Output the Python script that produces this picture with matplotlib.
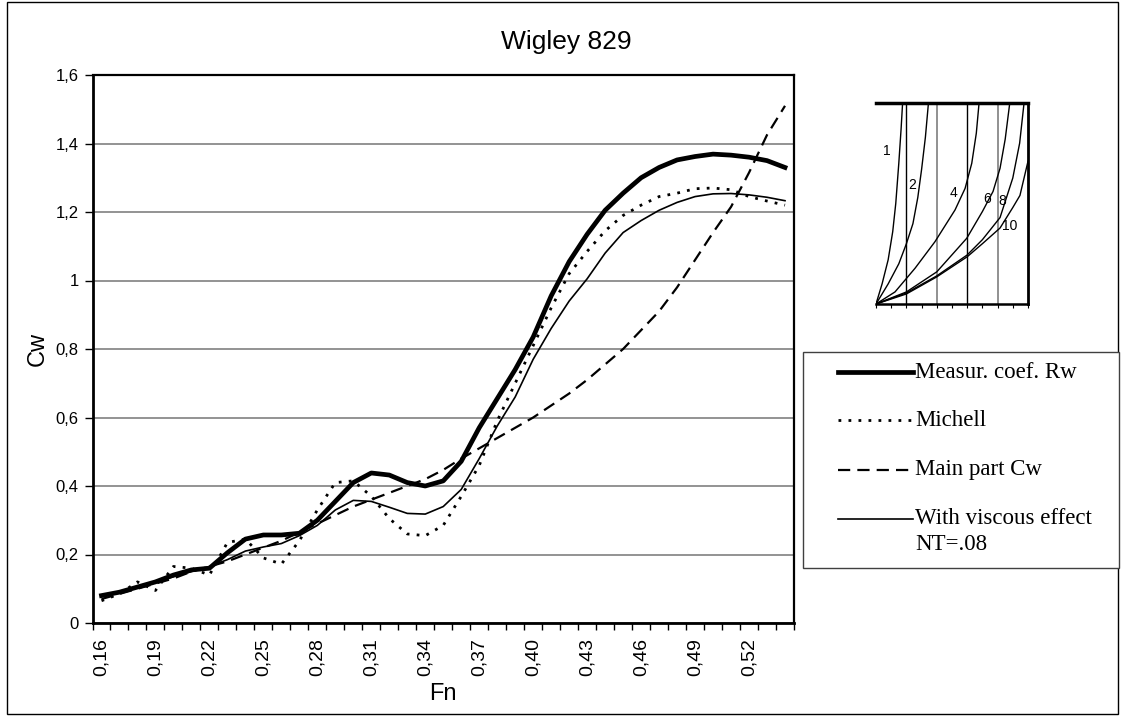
import matplotlib
matplotlib.use("Agg")
import matplotlib.pyplot as plt
from matplotlib.lines import Line2D
from matplotlib.patches import Rectangle

# ---------------- data ----------------
fn = [0.16, 0.17, 0.18, 0.19, 0.20, 0.21, 0.22, 0.23, 0.24, 0.25,
      0.26, 0.27, 0.28, 0.29, 0.30, 0.31, 0.32, 0.33, 0.34, 0.35,
      0.36, 0.37, 0.38, 0.39, 0.40, 0.41, 0.42, 0.43, 0.44, 0.45,
      0.46, 0.47, 0.48, 0.49, 0.50, 0.51, 0.52, 0.53, 0.54]

measured = [0.080, 0.090, 0.105, 0.120, 0.140, 0.155, 0.160, 0.205, 0.245, 0.257,
            0.257, 0.262, 0.300, 0.355, 0.410, 0.438, 0.432, 0.410, 0.400, 0.415,
            0.472, 0.570, 0.655, 0.740, 0.835, 0.955, 1.055, 1.135, 1.205, 1.255,
            1.300, 1.330, 1.352, 1.362, 1.369, 1.366, 1.360, 1.350, 1.330]

michell = [0.065, 0.085, 0.120, 0.095, 0.165, 0.160, 0.140, 0.235, 0.245, 0.190,
           0.172, 0.240, 0.330, 0.410, 0.415, 0.370, 0.305, 0.260, 0.255, 0.285,
           0.370, 0.460, 0.590, 0.700, 0.810, 0.920, 1.020, 1.085, 1.145, 1.190,
           1.220, 1.245, 1.255, 1.268, 1.270, 1.265, 1.245, 1.232, 1.220]

main_part = [0.070, 0.085, 0.100, 0.115, 0.130, 0.150, 0.165, 0.180, 0.200, 0.220,
             0.240, 0.265, 0.290, 0.315, 0.340, 0.360, 0.380, 0.400, 0.420, 0.447,
             0.480, 0.510, 0.540, 0.570, 0.600, 0.635, 0.670, 0.710, 0.755, 0.800,
             0.855, 0.910, 0.980, 1.060, 1.140, 1.215, 1.315, 1.425, 1.510]

viscous = [0.080, 0.090, 0.105, 0.120, 0.135, 0.150, 0.165, 0.185, 0.210, 0.222,
           0.232, 0.255, 0.285, 0.330, 0.358, 0.355, 0.338, 0.320, 0.318, 0.340,
           0.390, 0.480, 0.575, 0.660, 0.770, 0.860, 0.940, 1.005, 1.080, 1.140,
           1.175, 1.205, 1.228, 1.245, 1.253, 1.254, 1.250, 1.243, 1.233]

y_ticks = [0, 0.2, 0.4, 0.6, 0.8, 1.0, 1.2, 1.4, 1.6]
y_labels = ["0", "0,2", "0,4", "0,6", "0,8", "1", "1,2", "1,4", "1,6"]

legend_labels = ["Measur. coef. Rw", "Michell", "Main part Cw", "With viscous effect", "NT=.08"]

# inset curves (relative coordinates inside the small picture)
inset_names = ["1", "2", "4", "6", "8", "10"]
inset_u = [
    [0.0, 0.04, 0.08, 0.11, 0.13, 0.15, 0.165, 0.175],
    [0.0, 0.08, 0.15, 0.20, 0.243, 0.275, 0.30, 0.325, 0.345],
    [0.0, 0.125, 0.257, 0.388, 0.52, 0.586, 0.63, 0.66, 0.678],
    [0.0, 0.2, 0.4, 0.597, 0.7, 0.77, 0.816, 0.85, 0.88],
    [0.0, 0.2, 0.4, 0.6, 0.7, 0.816, 0.9, 0.945, 0.974],
    [0.0, 0.2, 0.4, 0.6, 0.7, 0.816, 0.9, 0.947, 1.0],
]
inset_v = [
    [0.0, 0.10, 0.22, 0.36, 0.50, 0.70, 0.87, 1.0],
    [0.0, 0.10, 0.20, 0.30, 0.40, 0.53, 0.67, 0.83, 1.0],
    [0.0, 0.06, 0.178, 0.31, 0.468, 0.575, 0.70, 0.85, 1.0],
    [0.0, 0.06, 0.16, 0.327, 0.46, 0.56, 0.675, 0.82, 1.0],
    [0.0, 0.055, 0.14, 0.244, 0.32, 0.43, 0.627, 0.8, 1.0],
    [0.0, 0.05, 0.135, 0.235, 0.30, 0.378, 0.48, 0.54, 0.71],
]
inset_label_u = [0.072, 0.235, 0.507, 0.73, 0.83, 0.88]
inset_label_v = [0.76, 0.59, 0.55, 0.52, 0.51, 0.39]

# ---------------- figure ----------------
W, H = 1123, 717
fig = plt.figure(figsize=(W / 100, H / 100), dpi=100)
fig.patch.set_facecolor("white")

def fx(px):
    return px / W

def fy(py):
    return 1 - py / H

# outer frame
fig.add_artist(Rectangle((fx(7), fy(714)), fx(1118) - fx(7), fy(2) - fy(714),
                         transform=fig.transFigure, fill=False, edgecolor="black", lw=1.0))

L, R, T, B = 92.5, 794, 75, 623
ax = fig.add_axes([fx(L), fy(B), fx(R) - fx(L), fy(T) - fy(B)])

x = list(range(len(fn)))
ax.plot(x, measured, color="black", lw=3.4, solid_joinstyle="round", zorder=5)
ax.plot(x, michell, color="black", lw=2.0, linestyle=(0, (1.0, 2.6)), zorder=4)
ax.plot(x, main_part, color="black", lw=1.6, linestyle=(0, (5.5, 3.2)), zorder=4)
ax.plot(x, viscous, color="black", lw=1.2, zorder=4)

ax.set_xlim(-0.5, len(fn) - 0.5)
ax.set_ylim(0, 1.6)
ax.set_yticks(y_ticks)
ax.set_yticklabels(y_labels, fontsize=12, family="Liberation Sans")
ax.yaxis.grid(True, color="#808080", lw=1.2)
ax.set_axisbelow(True)

# category boundaries as tick marks, labels every third category
ax.set_xticks([i - 0.5 for i in range(len(fn) + 1)])
ax.set_xticklabels([])
ax.set_xticks(x[::3], minor=True)
ax.set_xticklabels([("%.2f" % v).replace(".", ",") for v in fn[::3]], minor=True,
                   rotation=90, fontsize=14, family="Liberation Sans")
ax.tick_params(axis="x", which="major", direction="out", length=5, width=1.0, color="black")
ax.tick_params(axis="x", which="minor", length=0, pad=11)
ax.tick_params(axis="y", direction="out", length=6, width=1.0, pad=4)

for s in ["left", "bottom"]:
    ax.spines[s].set_linewidth(2.0)
for s in ["top", "right"]:
    ax.spines[s].set_linewidth(1.6)

ax.set_xlabel("Fn", fontsize=17, family="Liberation Sans")
ax.xaxis.label.set_va("center")
ax.xaxis.set_label_coords(0.5, -(694 - B) / (B - T))
ax.set_ylabel("Cw", fontsize=17, family="Liberation Sans")
ax.yaxis.label.set_va("center")
ax.yaxis.set_label_coords((38 - L) / (R - L), 0.5)

fig.text(fx(566), fy(42), "Wigley 829", ha="center", va="center", fontsize=19,
         family="Liberation Sans")

# ---------------- legend (drawn as a box) ----------------
fig.add_artist(Rectangle((fx(803), fy(568)), fx(1119) - fx(803), fy(352) - fy(568),
                         transform=fig.transFigure, fill=True, facecolor="white",
                         edgecolor="#404040", lw=1.0))
styles = [dict(lw=3.4), dict(lw=2.0, linestyle=(0, (1.0, 2.6))),
          dict(lw=1.6, linestyle=(0, (5.5, 3.2))), dict(lw=1.2)]
rows = [372, 420, 470, 519]
for st, yy, lab in zip(styles, rows, legend_labels[:4]):
    fig.add_artist(Line2D([fx(838), fx(913)], [fy(yy), fy(yy)], color="black",
                          transform=fig.transFigure, **st))
    fig.text(fx(915), fy(yy), lab, ha="left", va="center", fontsize=16.5,
             family="Liberation Serif")
fig.text(fx(915), fy(544), legend_labels[4], ha="left", va="center", fontsize=16.5,
         family="Liberation Serif")

# ---------------- inset picture ----------------
iL, iR, iT, iB = 876, 1028, 103, 304
iax = fig.add_axes([fx(iL), fy(iB), fx(iR) - fx(iL), fy(iT) - fy(iB)])
iax.set_xlim(0, 1)
iax.set_ylim(0, 1)
for k, xv in enumerate([0.2, 0.4, 0.6, 0.8]):
    iax.axvline(xv, color=("black" if k % 2 == 0 else "#909090"), lw=1.0 if k % 2 == 0 else 1.4)
for u, v in zip(inset_u, inset_v):
    iax.plot(u, v, color="black", lw=1.0, clip_on=True)
for name, lu, lv in zip(inset_names, inset_label_u, inset_label_v):
    iax.text(lu, lv, name, fontsize=10, family="Liberation Sans", ha="center", va="center")
iax.set_xticks([i / 10 for i in range(11)])
iax.set_xticklabels([])
iax.set_yticks([])
iax.tick_params(axis="x", direction="out", length=3, width=0.8)
iax.spines["top"].set_linewidth(2.5)
iax.spines["right"].set_linewidth(2.0)
iax.spines["bottom"].set_linewidth(1.8)
iax.spines["left"].set_visible(False)

fig.savefig("out.png", dpi=100)
